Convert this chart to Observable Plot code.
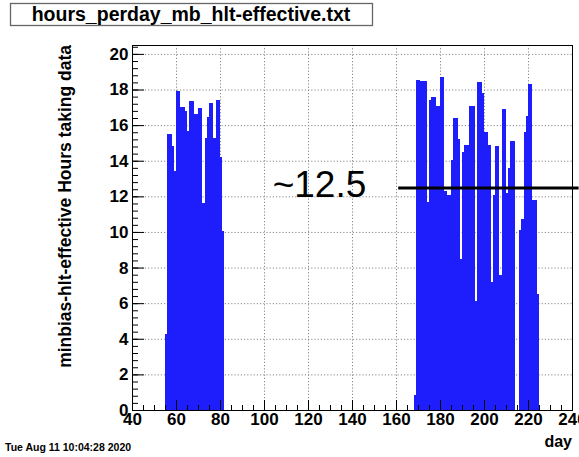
<!DOCTYPE html>
<html><head><meta charset="utf-8">
<script src="https://cdn.jsdelivr.net/npm/d3@7"></script>
<script src="https://cdn.jsdelivr.net/npm/@observablehq/plot@0.6"></script>
<style>
html,body{margin:0;padding:0;background:#fff;}
svg{display:block}
</style></head><body><div id="chart"></div>
<script>
// ---- data ----
const leftStartDay = 55;
const leftHours = [4.25, 15.5, 15.5, 14.85, 13.45, 17.9, 17.9, 17.0, 17.0, 16.8, 15.65, 17.35, 17.35, 16.6, 16.6,
  16.95, 16.95, 11.6, 15.25, 16.45, 17.25, 17.25, 15.25, 17.4, 17.4, 14.2, 10.05];
const rightStartDay = 168;
const rightHours = [0.85, 18.55, 18.55, 18.5, 18.5, 18.5, 11.7, 17.4, 17.6, 17.6, 17.1, 17.1, 18.7, 18.7, 12.3,
  12.05, 12.05, 14.05, 16.4, 16.4, 15.2, 8.5, 14.5, 14.9, 14.9, 17.1, 17.1, 17.1, 6.1, 18.4, 18.4, 17.8, 15.6,
  15.6, 14.9, 7.2, 12.1, 14.8, 14.8, 7.6, 16.9, 16.9, 12.2, 13.6, 15.1, 15.1, 0, 0, 10.1, 10.7, 15.6, 16.5,
  18.3, 18.3, 11.8, 11.8, 6.5];
const xTicks = [40, 60, 80, 100, 120, 140, 160, 180, 200, 220, 240];
const yTicks = [0, 2, 4, 6, 8, 10, 12, 14, 16, 18, 20];
const refLevel = [12.5];
const refFrom = 161, refTo = 243;
const refLabel = ["~12.5"];
const refLabelDay = 125;
const title = "hours_perday_mb_hlt-effective.txt";
const yLabel = "minbias-hlt-effective Hours taking data";
const xLabel = "day";
const stamp = "Tue Aug 11 10:04:28 2020";

// ---- build table ----
const bins = [
  ...leftHours.map((h, i) => ({day: leftStartDay + i, hours: h})),
  ...rightHours.map((h, i) => ({day: rightStartDay + i, hours: h}))
];
const xMinor = d3.range(40, 241, 5);
const yMinor = d3.range(0, 20.41, 0.4);

const W = 579, H = 457, mL = 132, mR = 7, mT = 45, mB = 47;
const pw = W - mL - mR, ph = H - mT - mB;
const font = "'Liberation Sans', Arial, Helvetica, sans-serif";

const plot = Plot.plot({
  width: W, height: H,
  marginLeft: mL, marginRight: mR, marginTop: mT, marginBottom: mB,
  style: {fontFamily: font, background: "#fff", overflow: "visible", color: "#000"},
  x: {domain: [40, 240]},
  y: {domain: [0, 20.5]},
  marks: [
    Plot.gridX(xTicks.filter(v => v > 40 && v < 240), {stroke: "#888", strokeOpacity: 1, strokeDasharray: "1.2,2"}),
    Plot.gridY(yTicks.filter(v => v > 0), {stroke: "#888", strokeOpacity: 1, strokeDasharray: "1.2,2"}),
    Plot.rectY(bins, {x1: "day", x2: d => d.day + 1, y1: 0, y2: "hours", fill: "#1e1efc", inset: 0, shapeRendering: "crispEdges"}),
    Plot.tickX(xTicks, {x: d => d, insetTop: ph - 10, stroke: "#000"}),
    Plot.tickX(xMinor, {x: d => d, insetTop: ph - 5, stroke: "#000"}),
    Plot.tickY(yTicks, {y: d => d, insetRight: pw - 12, stroke: "#000"}),
    Plot.tickY(yMinor, {y: d => d, insetRight: pw - 6, stroke: "#000"}),
    Plot.frame({stroke: "#000"}),
    Plot.axisX(xTicks, {tickSize: 0, tickPadding: 2, fontSize: 17, fontWeight: "bold", label: null}),
    Plot.axisY(yTicks, {tickSize: 0, tickPadding: 4, fontSize: 17, fontWeight: "bold", label: null}),
    Plot.ruleY(refLevel, {x1: refFrom, x2: refTo, stroke: "#000", strokeWidth: 3}),
    Plot.text(refLabel, {x: refLabelDay, y: refLevel[0], text: d => d, fontSize: 37, fontWeight: "normal", dy: -3, textAnchor: "middle"})
  ]
});

const svg = d3.select(plot);
// title box
svg.append("rect").attr("x", 10.5).attr("y", 3.5).attr("width", 362).attr("height", 22)
  .attr("fill", "#fff").attr("stroke", "#666").attr("stroke-width", 1.3);
svg.append("text").attr("x", 191).attr("y", 21).attr("text-anchor", "middle")
  .attr("font-family", font).attr("font-size", 19.5).attr("font-weight", "bold").text(title);
// y label
svg.append("text").attr("transform", `translate(71,${mT}) rotate(-90)`).attr("text-anchor", "end")
  .attr("font-family", font).attr("font-size", 17.5).attr("font-weight", "bold").text(yLabel);
// x label
svg.append("text").attr("x", W - mR).attr("y", 447).attr("text-anchor", "end")
  .attr("font-family", font).attr("font-size", 16).attr("font-weight", "bold").text(xLabel);
// stamp
svg.append("text").attr("x", 5).attr("y", 451).attr("text-anchor", "start")
  .attr("font-family", font).attr("font-size", 10.5).attr("font-weight", "bold").text(stamp);

document.getElementById("chart").appendChild(plot);
</script></body></html>
